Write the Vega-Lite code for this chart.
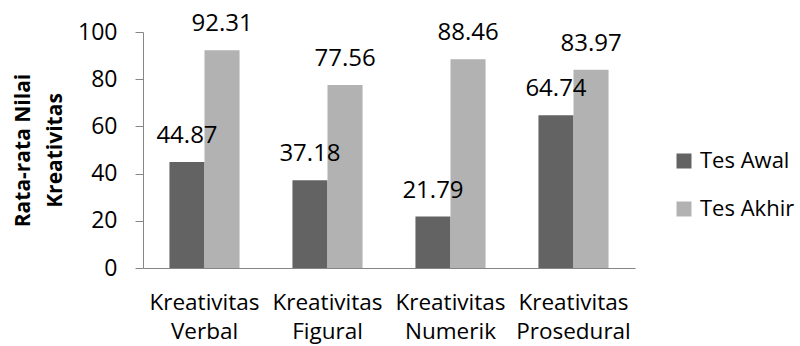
{
  "$schema": "https://vega.github.io/schema/vega-lite/v6.json",
  "autosize": "none",
  "width": 492,
  "height": 236,
  "padding": {"left": 143, "top": 32, "right": 165, "bottom": 78},
  "config": {
    "font": "Open Sans",
    "view": {"stroke": null},
    "axis": {"grid": false, "domainColor": "#868686", "tickColor": "#868686", "labelColor": "#000000", "titleColor": "#000000"}
  },
  "data": {
    "values": [
      {"kategori": "Kreativitas Verbal", "tes": "Tes Awal", "nilai": 44.87},
      {"kategori": "Kreativitas Verbal", "tes": "Tes Akhir", "nilai": 92.31},
      {"kategori": "Kreativitas Figural", "tes": "Tes Awal", "nilai": 37.18},
      {"kategori": "Kreativitas Figural", "tes": "Tes Akhir", "nilai": 77.56},
      {"kategori": "Kreativitas Numerik", "tes": "Tes Awal", "nilai": 21.79},
      {"kategori": "Kreativitas Numerik", "tes": "Tes Akhir", "nilai": 88.46},
      {"kategori": "Kreativitas Prosedural", "tes": "Tes Awal", "nilai": 64.74},
      {"kategori": "Kreativitas Prosedural", "tes": "Tes Akhir", "nilai": 83.97}
    ]
  },
  "encoding": {
    "x": {
      "field": "kategori", "type": "nominal", "sort": null,
      "scale": {"paddingInner": 0.43, "paddingOuter": 0.215},
      "axis": {
        "title": null, "labelAngle": 0, "ticks": false,
        "labelExpr": "split(datum.label, ' ')",
        "labelFontSize": 22.5, "labelLineHeight": 29, "labelPadding": 23,
        "labelBaseline": "top"
      }
    },
    "xOffset": {"field": "tes", "type": "nominal", "sort": ["Tes Awal", "Tes Akhir"], "scale": {"paddingInner": 0}},
    "y": {
      "field": "nilai", "type": "quantitative",
      "scale": {"domain": [0, 100], "nice": false},
      "axis": {
        "title": ["Rata-rata Nilai", "Kreativitas"],
        "titleFontSize": 21, "titleFontWeight": "bold", "titleLineHeight": 32, "titlePadding": 12,
        "values": [0, 20, 40, 60, 80, 100],
        "tickSize": 8, "labelFontSize": 23, "labelPadding": 18
      }
    }
  },
  "layer": [
    {
      "mark": {"type": "bar"},
      "encoding": {
        "color": {
          "field": "tes", "type": "nominal", "sort": ["Tes Awal", "Tes Akhir"],
          "scale": {"domain": ["Tes Awal", "Tes Akhir"], "range": ["#636363", "#b2b2b2"]},
          "legend": {
            "title": null, "orient": "none", "legendX": 530, "legendY": 118,
            "symbolType": "square", "symbolSize": 225, "symbolStrokeWidth": 0,
            "labelFontSize": 22, "rowPadding": 26, "labelOffset": 5
          }
        }
      }
    },
    {
      "mark": {"type": "text", "fontSize": 24, "baseline": "alphabetic", "dy": -19, "color": "#000000"},
      "encoding": {
        "text": {"field": "nilai", "type": "quantitative", "format": ".2f"}
      }
    }
  ]
}
